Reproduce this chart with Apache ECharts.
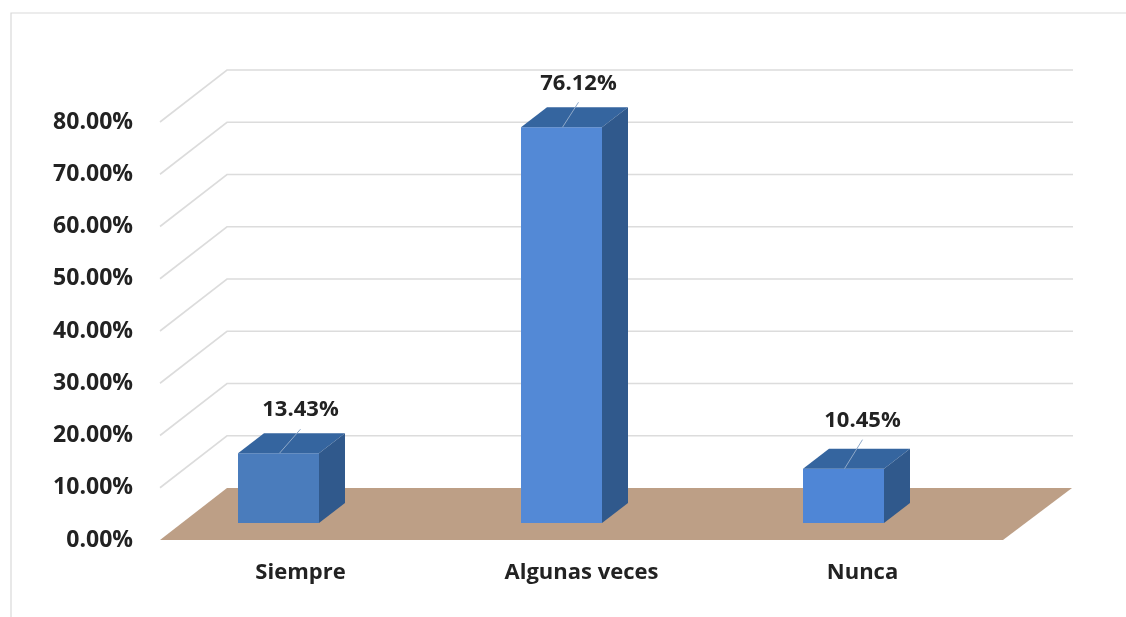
<!DOCTYPE html>
<html><head><meta charset="utf-8">
<style>html,body{margin:0;padding:0;background:#fff}#c{width:1126px;height:617px}</style>
<script src="https://cdn.jsdelivr.net/npm/echarts@6/dist/echarts.min.js"></script>
</head><body><div id="c"></div>
<script>
const categories = ['Siempre', 'Algunas veces', 'Nunca'];
const values = [13.43, 76.12, 10.45];
const barColors = ['#4a7cbc', '#5389d6', '#4f86d6'];
const yTicks = [10, 20, 30, 40, 50, 60, 70, 80];

const FONT = '"Open Sans", "Noto Sans", sans-serif';
const DEPTH_X = 67, DEPTH_Y = 52;
const barShiftX = [-22, -20, -19];
const BAR_SHIFT_Y = -17, BAR_SCALE = 0.995;
const BAR_DX = 26, BAR_DY = 20, BAR_W = 81;
const labelShift = [[22, -43], [17, -44], [19, -48]];

function renderWall(params, api) {
  const cs = params.coordSys;
  const y = api.coord([0, api.value(1)])[1];
  return {
    type: 'polyline', silent: true,
    shape: { points: [[cs.x, y], [cs.x + DEPTH_X, y - DEPTH_Y], [cs.x + cs.width + DEPTH_X + 3, y - DEPTH_Y]] },
    style: { stroke: '#dcdcdc', lineWidth: 1.6, fill: null }
  };
}
function renderFloor(params, api) {
  const cs = params.coordSys;
  const y = api.coord([0, 0])[1];
  return {
    type: 'polygon', silent: true,
    shape: { points: [[cs.x, y], [cs.x + cs.width, y], [cs.x + cs.width + DEPTH_X + 2, y - DEPTH_Y], [cs.x + DEPTH_X, y - DEPTH_Y]] },
    style: { fill: '#bd9f86' }
  };
}
function renderBar(params, api) {
  const i = api.value(0), v = api.value(1);
  const c = api.coord([i, v]), b = api.coord([i, 0]);
  const cx = c[0] + barShiftX[i], bot = b[1] + BAR_SHIFT_Y, t = bot + (c[1] - b[1]) * BAR_SCALE;
  const l = cx - BAR_W / 2, r = cx + BAR_W / 2;
  const s = labelShift[i];
  return {
    type: 'group', silent: true,
    children: [
      { type: 'rect', shape: { x: l, y: t, width: BAR_W, height: bot - t }, style: { fill: barColors[i] } },
      { type: 'polygon', shape: { points: [[l, t], [r, t], [r + BAR_DX, t - BAR_DY], [l + BAR_DX, t - BAR_DY]] }, style: { fill: '#35659f' } },
      { type: 'polygon', shape: { points: [[r, t], [r + BAR_DX, t - BAR_DY], [r + BAR_DX, bot - BAR_DY], [r, bot]] }, style: { fill: '#30598c' } },
      { type: 'line', shape: { x1: cx + 1, y1: t, x2: cx + s[0], y2: t + s[1] + 19 }, style: { stroke: '#8fa9c9', lineWidth: 1 } },
      { type: 'text', style: { text: v.toFixed(2) + '%', x: cx + s[0], y: t + s[1], align: 'center', verticalAlign: 'middle', font: '700 22px ' + FONT, fill: '#222' } }
    ]
  };
}

const chart = echarts.init(document.getElementById('c'), null, { renderer: 'canvas' });
chart.setOption({
  animation: false,
  backgroundColor: '#fff',
  grid: { left: 160, right: 123, top: 122, bottom: 77, containLabel: false },
  xAxis: {
    type: 'category', data: categories,
    axisLine: { show: false }, axisTick: { show: false },
    axisLabel: { color: '#222', fontFamily: FONT, fontWeight: 700, fontSize: 22, margin: 22 }
  },
  yAxis: {
    type: 'value', min: 0, max: 80, interval: 10,
    axisLine: { show: false }, axisTick: { show: false }, splitLine: { show: false },
    axisLabel: { color: '#222', fontFamily: FONT, fontWeight: 700, fontSize: 23, margin: 27,
      formatter: v => v.toFixed(2) + '%' }
  },
  graphic: [
    { type: 'polyline', silent: true, shape: { points: [[11, 617], [11, 13], [1126, 13]] }, style: { stroke: '#d9d9d9', lineWidth: 1.2, fill: null } }
  ],
  series: [
    { type: 'custom', name: 'walls', z: 1, clip: false, renderItem: renderWall, data: yTicks.map(t => [0, t]) },
    { type: 'custom', name: 'floor', z: 2, clip: false, renderItem: renderFloor, data: [[0, 0]] },
    { type: 'custom', name: 'bars', z: 3, clip: false, renderItem: renderBar, data: values.map((v, i) => [i, v]) }
  ]
});
</script></body></html>
